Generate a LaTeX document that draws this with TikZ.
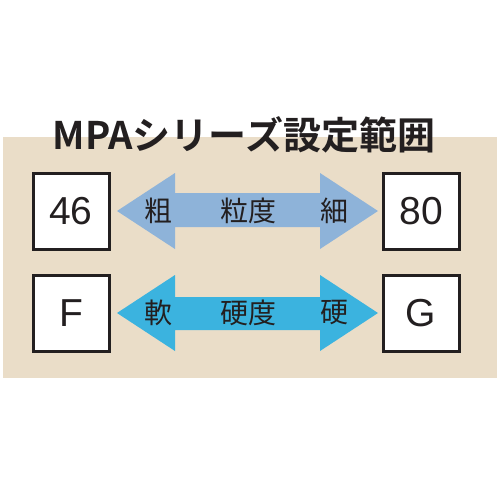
\documentclass[tikz,border=0pt]{standalone}
\usepackage{fontspec}
\setmainfont{Liberation Sans}
\newfontfamily\cjk{Noto Sans CJK JP}
\newfontfamily\cjkbold{Noto Sans CJK JP Bold}
\definecolor{beige}{HTML}{EADDC8}
\definecolor{arrA}{HTML}{8EB3D9}
\definecolor{arrB}{HTML}{3BB3DF}
\definecolor{ink}{HTML}{231F20}
\begin{document}
\begin{tikzpicture}[x=1pt,y=-1pt,
  valbox/.style={draw=ink,line width=3pt,fill=white,minimum width=76pt,minimum height=76pt,inner sep=0pt,font=\fontsize{39}{41}\selectfont,text=ink},
  lbl/.style={font=\cjk\fontsize{28}{30}\selectfont,text=ink,inner sep=0pt}]
\useasboundingbox (0,0) rectangle (500,500);
\fill[white] (0,0) rectangle (500,500);
\fill[beige] (3,137) rectangle (497,378);
\node[font=\cjkbold\fontsize{38}{40}\selectfont,text=ink,inner sep=0pt] (title) at (244,135) {MPAシリーズ設定範囲};
% arrows
\fill[arrA] (117,211) -- (175,173) -- (175,193) -- (320,193) -- (320,173) -- (378,211) -- (320,249) -- (320,227) -- (175,227) -- (175,249) -- cycle;
\fill[arrB] (117,313) -- (175,275) -- (175,297) -- (320,297) -- (320,275) -- (378,313) -- (320,351) -- (320,330) -- (175,330) -- (175,351) -- cycle;
\node[valbox] (b46) at (71,211) {46};
\node[valbox] (b80) at (421,211) {80};
\node[valbox] (bF) at (71,313) {F};
\node[valbox] (bG) at (421,313) {G};
\node[lbl] (t1) at (158,211) {粗};
\node[lbl] (t2) at (248,211) {粒度};
\node[lbl] (t3) at (334,211) {細};
\node[lbl] (t4) at (158,313) {軟};
\node[lbl] (t5) at (248,313) {硬度};
\node[lbl] (t6) at (334,313) {硬};
\end{tikzpicture}
\end{document}
